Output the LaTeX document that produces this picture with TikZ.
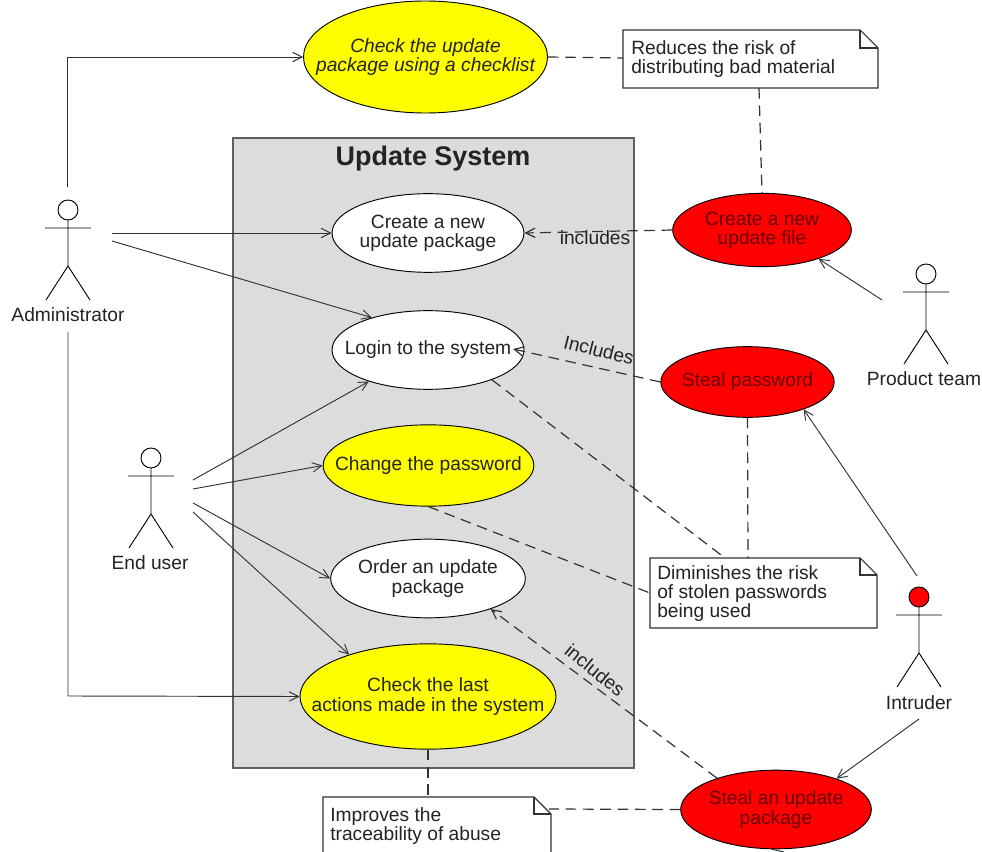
\documentclass[tikz,border=0pt]{standalone}
\usepackage{fontspec}
\setmainfont{Liberation Sans}
\usetikzlibrary{arrows.meta,shapes.geometric,calc}
\definecolor{ink}{RGB}{35,35,35}
\definecolor{lineink}{RGB}{50,50,50}
\definecolor{boxink}{RGB}{95,95,95}
\definecolor{yelfill}{RGB}{255,255,0}
\definecolor{redfill}{RGB}{255,0,0}
\definecolor{redink}{RGB}{105,0,0}
\definecolor{sysfill}{RGB}{220,220,220}
\tikzset{
 uc/.style={draw=black,ellipse,inner xsep=-30pt,inner ysep=-12pt,align=center,text=ink,line width=.7pt,font=\fontsize{14.4}{14.5}\selectfont},
 ucw/.style={fill=white}, ucy/.style={fill=yelfill}, ucr/.style={fill=redfill,text=redink},
 lnk/.style={draw=lineink,line width=.7pt,-{Straight Barb[length=7pt,width=7pt]}},
 dep/.style={draw=lineink,line width=.9pt,dash pattern=on 8pt off 5pt},
 depa/.style={dep,-{Straight Barb[length=7pt,width=7pt]}},
 lab/.style={font=\fontsize{14.4}{14.5}\selectfont,inner sep=0pt,text=ink},
 nt/.style={font=\fontsize{14.4}{14.5}\selectfont,align=left,anchor=west,inner sep=0pt,text=ink},
 notepath/.style={draw=lineink,line width=.8pt,fill=white},
 fig/.style={draw=black,line width=.7pt}
}
\begin{document}
\begin{tikzpicture}[x=.75pt,y=-.75pt]
\useasboundingbox (0,0) rectangle (982,852);
\fill[white] (0,0) rectangle (982,852);
\draw[draw=boxink,fill=sysfill,line width=.9pt] (233,138) rectangle (634,768);
\node[font=\bfseries\fontsize{20.2}{22}\selectfont,text=ink] (title) at (433,159) {Update System};

\node[uc,ucy,minimum width=183pt,minimum height=84pt,font=\itshape\fontsize{14.4}{14.5}\selectfont] (chk) at (425.5,57) {Check the update\\package using a checklist};
\node[uc,ucw,minimum width=144pt,minimum height=59pt] (create) at (428,233) {Create a new\\update package};
\node[uc,ucw,minimum width=144pt,minimum height=59pt] (login) at (428,350) {Login to the system};
\node[uc,ucy,minimum width=158pt,minimum height=61pt] (chg) at (428.5,465.5) {Change the password};
\node[uc,ucw,minimum width=146pt,minimum height=59pt] (order) at (428,578.5) {Order an update\\package};
\node[uc,ucy,minimum width=192pt,minimum height=79pt] (last) at (428,696.5) {Check the last\\actions made in the system};
\node[uc,ucr,minimum width=134pt,minimum height=55pt] (cfile) at (762,230) {Create a new\\update file};
\node[uc,ucr,minimum width=130pt,minimum height=53pt] (steal) at (747.5,382) {Steal password};
\node[uc,ucr,minimum width=143pt,minimum height=59pt] (spkg) at (776,809.5) {Steal an update\\package};

% notes
\draw[notepath] (623,30) -- (860,30) -- (878,48) -- (878,88) -- (623,88) -- cycle;
\draw[notepath,fill=none] (860,30) -- (860,48) -- (878,48);
\node[nt] (n1) at (631,59) {Reduces the risk of\\distributing bad material};
\coordinate (n1l) at (623,58); \coordinate (n1b) at (759,88);
\draw[notepath] (650,558) -- (860,558) -- (877,575) -- (877,628) -- (650,628) -- cycle;
\draw[notepath,fill=none] (860,558) -- (860,575) -- (877,575);
\node[nt] (n2) at (657,593.5) {Diminishes the risk\\of stolen passwords\\being used};
\coordinate (n2t) at (748,558); \coordinate (n2l) at (650,593); \coordinate (n2tl) at (725,558);
\draw[notepath] (323,852) -- (323,797) -- (534,797) -- (551,814) -- (551,852);
\draw[notepath,fill=none] (534,797) -- (534,814) -- (551,814);
\node[nt] (n3) at (330,826) {Improves the\\traceability of abuse};
\coordinate (n3t) at (428,797); \coordinate (n3r) at (549,809);

% actors
\foreach \ax/\ay/\af in {68/210/white,151/458/white,926/274/white,919/597/redfill}{
 \draw[fig,fill=\af] (\ax,\ay) circle (10);
 \draw[fig] (\ax,\ay+10) -- (\ax,\ay+56) (\ax-23,\ay+18) -- (\ax+23,\ay+18)
  (\ax-22,\ay+90) -- (\ax,\ay+56) -- (\ax+22,\ay+90);
}
\node[lab] (aadm) at (68,315) {Administrator};
\node[lab] (aend) at (150,563) {End user};
\node[lab] (apt) at (924,379) {Product team};
\node[lab] (aint) at (919,703) {Intruder};

\coordinate (a1) at (67,187); \coordinate (a2) at (112,233); \coordinate (a3) at (112,241);
\coordinate (a4) at (68,332); \coordinate (a1c) at (67,57); \coordinate (a4c) at (68,696);
\coordinate (e1) at (193,480); \coordinate (e2) at (193,489); \coordinate (e3) at (193,503); \coordinate (e4) at (193,512);
\coordinate (p1) at (882,300); \coordinate (i1) at (917,576); \coordinate (i2) at (919,719);
\coordinate (logintip) at (513,349);
\coordinate (stubA) at (771,849); \coordinate (stubB) at (784,852);

\draw[lnk] (a1) -- (a1c) -- (chk.west);
\draw[lnk] (a2) -- (create.west);
\draw[lnk] (a3) -- (login.150);
\draw[lnk] (a4) -- (a4c) -- (last.west);
\draw[lnk] (e1) -- (login.208);
\draw[lnk] (e2) -- (chg.west);
\draw[lnk] (e3) -- (order.west);
\draw[lnk] (e4) -- (last.152);
\draw[lnk] (p1) -- (cfile.-27);
\draw[lnk] (i1) -- (steal.-26);
\draw[lnk] (i2) -- (spkg.27);
\draw[draw=lineink,line width=.7pt] (stubA) -- (stubB);

\draw[dep] (chk.east) -- (n1l);
\draw[dep] (n1b) -- (cfile.north);
\draw[depa] (cfile.west) -- (create.east);
\draw[depa] (steal.west) -- (logintip);
\draw[dep] (steal.south) -- (n2t);
\draw[dep] (login.-25) -- (n2tl);
\draw[dep] (chg.south) -- (n2l);
\draw[depa] (spkg.152) -- (order.-26);
\draw[dep] (last.south) -- (n3t);
\draw[dep] (spkg.west) -- (n3r);

\node[lab] (l1) at (595,238) {includes};
\node[lab,rotate=-14] (l2) at (599,350) {Includes};
\node[lab,rotate=-39] (l3) at (595,670) {includes};
\end{tikzpicture}
\end{document}
